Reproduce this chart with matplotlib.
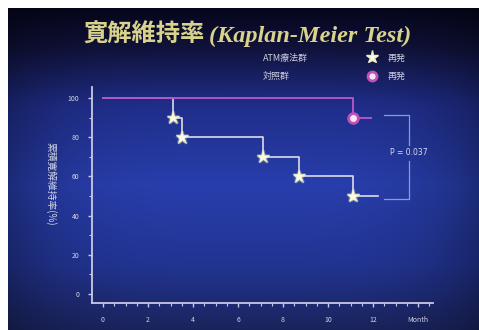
import numpy as np
import matplotlib.pyplot as plt
from matplotlib.ticker import MultipleLocator
import matplotlib.patheffects as pe

plt.rcParams['font.family'] = ['Noto Sans CJK JP', 'DejaVu Sans']

W, H = 479, 330

# survival data (months, % in remission)
atm_times = [0, 3.1, 3.5, 7.1, 8.7, 11.1]
atm_rates = [100, 90, 80, 70, 60, 50]
atm_end = 12.2
ctrl_times = [0, 11.1]
ctrl_rates = [100, 90]
ctrl_end = 11.9
x_ticks = [0, 2, 4, 6, 8, 10, 12, 14]
x_labels = ['0', '2', '4', '6', '8', '10', '12', 'Month']
y_ticks = [0, 20, 40, 60, 80, 100]
p_text = 'P = 0.037'


def fx(px):
    return px / W


def fy(py):
    return 1 - py / H


fig = plt.figure(figsize=(W / 100, H / 100), dpi=100, facecolor='white')

# slide background: dark top, blue middle, navy bottom
bg = fig.add_axes([fx(8), 0, fx(W - 8), (H - 8) / H])
rows = np.linspace(0, 1, 200)
stops = [0.0, 0.12, 0.3, 0.55, 0.8, 1.0]
r = np.interp(rows, stops, [6, 16, 32, 40, 34, 26])
g = np.interp(rows, stops, [6, 18, 46, 62, 52, 36])
b = np.interp(rows, stops, [28, 58, 138, 172, 146, 92])
cols = np.linspace(-1, 1, 300)
shade = 1 - 0.3 * cols ** 4
img = np.stack([np.outer(r, shade), np.outer(g, shade), np.outer(b, shade)], axis=-1) / 255
bg.imshow(img, aspect='auto', extent=[0, 1, 0, 1], interpolation='bilinear')
bg.axis('off')

ax = fig.add_axes([fx(92), fy(303), fx(433 - 92), (303 - 87) / H])
ax.patch.set_alpha(0)
x0 = -0.49
ax.set_xlim(x0, x0 + 341 / 22.5)
y0 = -4.6
ax.set_ylim(y0, y0 + 216 / 1.96)

for s in ['top', 'right']:
    ax.spines[s].set_visible(False)
for s in ['left', 'bottom']:
    ax.spines[s].set_color('#c9c9e6')
    ax.spines[s].set_linewidth(1.3)

ax.set_xticks(x_ticks)
ax.set_xticklabels(x_labels)
ax.set_yticks(y_ticks)
ax.xaxis.set_minor_locator(MultipleLocator(0.5))
ax.yaxis.set_minor_locator(MultipleLocator(10))
ax.tick_params(which='major', colors='#c9c9e6', labelcolor='#d4d4e4', labelsize=5, length=3, width=1)
ax.tick_params(which='minor', colors='#c9c9e6', length=2, width=0.8)
ax.tick_params(axis='x', pad=6)
ax.tick_params(axis='y', pad=6)

star_fx = [pe.Stroke(linewidth=2, foreground='#ffffc0', alpha=0.3), pe.Normal()]

# ATM group
axx = atm_times + [atm_end]
ayy = atm_rates + [atm_rates[-1]]
ax.step(axx, ayy, where='post', color='#dcdce8', lw=1.2, zorder=2)
ax.plot(atm_times[1:], atm_rates[1:], '*', ms=9.5, mfc='#fbfbe6', mec='#eeeec0', mew=0.5,
        zorder=5, path_effects=star_fx)

# control group drawn over the shared 100% segment
cx = ctrl_times + [ctrl_end]
cy = ctrl_rates + [ctrl_rates[-1]]
ax.step(cx, cy, where='post', color='#b155c6', lw=1.4, zorder=3)
ax.plot(ctrl_times[1:], ctrl_rates[1:], 'o', ms=7, mfc='#f4e6f4', mec='#c050b8', mew=2, zorder=5)

# log-rank bracket
bx0, bx1 = 12.5, 13.6
ax.plot([bx0, bx1, bx1], [91.3, 91.3, 76], color='#8d9ad0', lw=0.9)
ax.plot([bx1, bx1, bx0], [68, 48.5, 48.5], color='#8d9ad0', lw=0.9)
ax.text(bx1, 72, p_text, color='#dcdcf0', fontsize=5.5, ha='center', va='center',
        family=['DejaVu Sans'])

ax.set_ylabel('累積寛解維持率(%)', color='#d4d4e4', fontsize=7, rotation=270, labelpad=10)
ax.yaxis.set_label_coords(-(92 - 45) / 341, (303 - 184) / 216)

# title
fig.text(fx(205), fy(35), '寛解維持率', color='#d8d28c', fontsize=17.5, fontweight='bold',
         ha='right', va='center')
fig.text(fx(209), fy(36), '(Kaplan-Meier Test)', color='#d8d28c', fontsize=17.5,
         fontweight='bold', fontstyle='italic', family=['Liberation Serif'], ha='left', va='center')

# legend
lc = '#cfcfe0'
fig.text(fx(263), fy(58), 'ATM療法群', color=lc, fontsize=6.5, ha='left', va='center')
fig.text(fx(263), fy(76), '対照群', color=lc, fontsize=6.5, ha='left', va='center')
fig.text(fx(388), fy(58), '再発', color=lc, fontsize=6.5, ha='left', va='center')
fig.text(fx(388), fy(76), '再発', color=lc, fontsize=6.5, ha='left', va='center')
fig.lines.append(plt.Line2D([fx(372)], [fy(57)], marker='*', ms=9.5, mfc='#fbfbe6', mec='#eeeec0',
                            transform=fig.transFigure, figure=fig))
fig.lines.append(plt.Line2D([fx(372)], [fy(76)], marker='o', ms=6.5, mfc='#f4e6f4', mec='#c050b8',
                            mew=2, transform=fig.transFigure, figure=fig))

fig.savefig('out.png', dpi=100)
